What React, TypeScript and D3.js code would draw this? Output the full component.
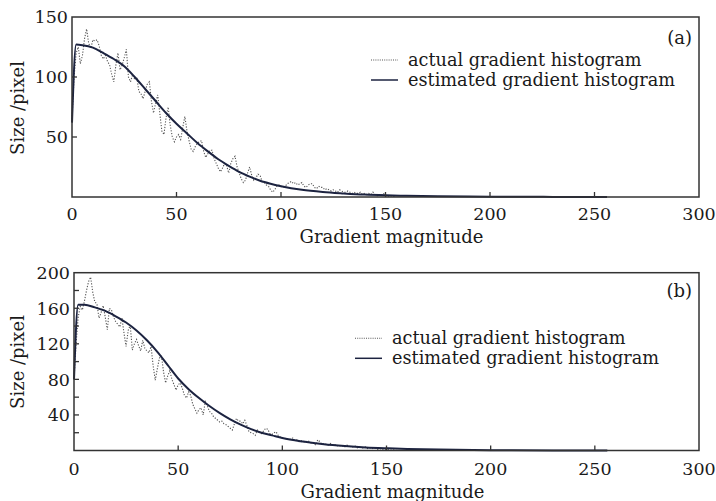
import React from "react";
import * as d3 from "d3";

// ---------- data ----------
const xTicks = [0, 50, 100, 150, 200, 250, 300];

// actual gradient histogram (a), bins 0..155
const actualA = [
  65, 100, 120, 125, 111, 118, 132, 140, 128, 124,
  131, 130, 131, 126, 118, 115, 118, 113, 110, 102,
  96, 110, 120, 106, 110, 116, 123, 100, 96, 102,
  98, 100, 88, 86, 82, 88, 94, 96, 80, 70,
  78, 85, 70, 55, 52, 66, 75, 60, 50, 46,
  50, 52, 48, 58, 67, 55, 47, 40, 38, 42,
  45, 46, 47, 38, 33, 36, 39, 39, 32, 28,
  24, 21, 24, 28, 26, 20, 28, 32, 34, 25,
  20, 15, 12, 14, 20, 25, 18, 14, 16, 19,
  18, 13, 12, 10, 9, 6, 4, 6, 9, 10,
  9, 8, 9, 11, 12, 13, 11, 12, 10, 11,
  12, 9, 8, 10, 11, 11, 8, 7, 9, 8,
  8, 6, 7, 6, 5, 6, 5, 4, 6, 5,
  4, 4, 5, 4, 3, 4, 3, 3, 4, 2,
  3, 2, 3, 2, 4, 2, 1, 2, 1, 3,
  1, 1, 0.5, 1, 0.5, 0,
];

// actual gradient histogram (b), bins 0..155
const actualB = [
  80, 120, 150, 162, 158, 168, 180, 190, 195, 178,
  167, 165, 149, 155, 163, 150, 136, 160, 158, 150,
  145, 142, 139, 149, 132, 117, 135, 141, 113, 120,
  125, 118, 112, 124, 115, 112, 110, 117, 95, 79,
  92, 104, 106, 88, 76, 84, 90, 80, 74, 68,
  74, 76, 70, 62, 59, 66, 62, 52, 47, 42,
  46, 48, 40, 55, 50, 44, 42, 38, 36, 34,
  32, 33, 30, 29, 27, 25, 23, 30, 36, 33,
  33, 30, 34, 28, 21, 20, 19, 17, 23, 20,
  19, 22, 25, 24, 19, 18, 20, 21, 17, 15,
  14, 13, 14, 12, 13, 14, 11, 12, 10, 11,
  10, 9, 11, 10, 8, 9, 6, 12, 10, 7,
  8, 7, 6, 8, 6, 7, 5, 6, 5, 5,
  4, 6, 5, 4, 4, 5, 3, 4, 3, 3,
  4, 2, 3, 2, 3, 2, 1, 2, 1, 2,
  1, 1, 0.5, 1, 0.5, 0,
];

// estimated gradient histogram
const estX = [0, 2, 5, 10, 15, 20, 25, 30, 35, 40, 45, 50, 55, 60, 65, 70, 75, 80, 85, 90, 95, 100, 110, 120, 130, 140, 150, 160, 175, 200, 230, 256];
const estA = [62, 127, 126.5, 124.5, 120, 115, 109, 100, 90, 80, 70, 61, 53, 45, 38, 31.5, 26, 21, 17, 13.5, 11, 9, 6, 4.2, 3, 2, 1.4, 1, 0.6, 0.3, 0.1, 0];
const estB = [80, 164, 164, 161, 157, 151, 144, 135, 124, 111, 96, 81, 69, 59, 50, 42, 35, 29, 24, 20, 17, 14, 10, 7, 5, 3.5, 2.5, 1.7, 1, 0.4, 0.1, 0];

const yTicksA = [50, 100, 150];
const yLabelsA = [50, 100, 150];
const yTicksB = [20, 40, 60, 80, 100, 120, 140, 160, 180, 200];
const yLabelsB = [40, 80, 120, 160, 200];

const legendLabels = ["actual gradient histogram", "estimated gradient histogram"];

const FONT = "'DejaVu Serif', serif";
const TXT = "#1a1a1a";
const FRAME = "#333";
const EST = "#1c2340";
const ACT = "#555";

type PanelProps = {
  left: number; right: number; top: number; bottom: number;
  yMax: number; yTicks: number[]; yLabels: number[];
  actual: number[]; est: number[];
  tag: string; tagY: number; legX: number; legY: number;
  tickLabelY: number; titleY: number; yLabelCy: number;
};

function Panel(p: PanelProps) {
  const x = d3.scaleLinear().domain([0, 300]).range([p.left, p.right]);
  const y = d3.scaleLinear().domain([0, p.yMax]).range([p.bottom, p.top]);
  const actLine = d3.line<number>().x((_, i) => x(i)).y((d) => y(d));
  const estLine = d3.line<number>().x((_, i) => x(estX[i])).y((d) => y(d)).curve(d3.curveMonotoneX);
  const tl = 5;
  return (
    <g>
      <path d={actLine(p.actual) || ""} fill="none" stroke={ACT} strokeWidth={1.1} strokeDasharray="1.2,1.6" />
      <path d={estLine(p.est) || ""} fill="none" stroke={EST} strokeWidth={2} />
      <rect x={p.left} y={p.top} width={p.right - p.left} height={p.bottom - p.top} fill="none" stroke={FRAME} strokeWidth={1.5} />
      {xTicks.filter((t) => t > 0 && t < 300).map((t) => (
        <line key={"xt" + t} x1={x(t)} x2={x(t)} y1={p.bottom} y2={p.bottom - tl} stroke={FRAME} strokeWidth={1.3} />
      ))}
      {xTicks.map((t) => (
        <text key={"xl" + t} x={x(t)} y={p.tickLabelY} textAnchor="middle" fontFamily={FONT} fontSize={17.5} fill={TXT}>{t}</text>
      ))}
      {p.yTicks.filter((t) => t < p.yMax).map((t) => (
        <line key={"yt" + t} x1={p.left} x2={p.left + tl} y1={y(t)} y2={y(t)} stroke={FRAME} strokeWidth={1.3} />
      ))}
      {p.yLabels.map((t) => (
        <text key={"yl" + t} x={p.left - 4} y={y(t)} dy="0.36em" textAnchor="end" fontFamily={FONT} fontSize={17.5} fill={TXT}>{t}</text>
      ))}
      <text x={(p.left + p.right) / 2 + 6} y={p.titleY} textAnchor="middle" fontFamily={FONT} fontSize={18} fill={TXT}>Gradient magnitude</text>
      <text transform={`translate(24,${p.yLabelCy}) rotate(-90)`} textAnchor="middle" fontFamily={FONT} fontSize={18} fill={TXT}>Size /pixel</text>
      <text x={p.right - 7} y={p.tagY} textAnchor="end" fontFamily={FONT} fontSize={18} fill={TXT}>{p.tag}</text>
      {legendLabels.map((l, i) => (
        <g key={l}>
          <line x1={p.legX} x2={p.legX + 27} y1={p.legY + i * 20} y2={p.legY + i * 20}
            stroke={i === 0 ? ACT : EST} strokeWidth={i === 0 ? 1.1 : 1.5} strokeDasharray={i === 0 ? "1,1.2" : undefined} />
          <text x={p.legX + 37} y={p.legY + i * 20} dy="0.33em" fontFamily={FONT} fontSize={17.7} fill={TXT}>{l}</text>
        </g>
      ))}
    </g>
  );
}

export default function App() {
  return (
    <svg width={716} height={501} style={{ position: "absolute", left: 0, top: 0, background: "#fff" }}>
      <rect width={716} height={501} fill="#fff" />
      <Panel left={72} right={699} top={17} bottom={197} yMax={150}
        yTicks={yTicksA} yLabels={yLabelsA} actual={actualA} est={estA}
        tag="(a)" tagY={44} legX={371} legY={60}
        tickLabelY={220} titleY={243} yLabelCy={108} />
      <Panel left={74} right={699} top={272.7} bottom={450.5} yMax={200}
        yTicks={yTicksB} yLabels={yLabelsB} actual={actualB} est={estB}
        tag="(b)" tagY={297} legX={355} legY={338.3}
        tickLabelY={475} titleY={498} yLabelCy={362} />
    </svg>
  );
}
